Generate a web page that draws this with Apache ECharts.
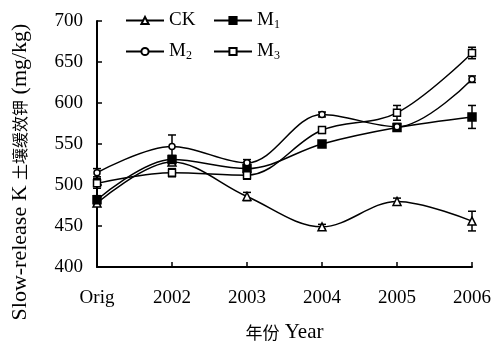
<!DOCTYPE html>
<html>
<head>
<meta charset="utf-8">
<script src="https://cdn.jsdelivr.net/npm/echarts@6/dist/echarts.min.js"></script>
<style>html,body{margin:0;padding:0;background:#fff}#c{width:496px;height:345px}</style>
</head>
<body>
<div id="c"></div>
<script>
const categories = ['Orig', '2002', '2003', '2004', '2005', '2006'];
const ck = [478, 528, 486, 449, 480, 456];
const m1 = [482, 531, 520, 550, 570, 583];
const m2 = [515, 547, 527, 586, 571, 629];
const m3 = [502, 515, 512, 567, 588, 661];
const ckErr = [4, 4, 5, 3, 4, 12];
const m1Err = [5, 5, 8, 3, 4, 14];
const m2Err = [5, 14, 4, 3, 4, 4];
const m3Err = [6, 5, 5, 4, 9, 7];
const seriesNames = ['CK', 'M1', 'M2', 'M3'];
const yMin = 400, yMax = 700, yStep = 50;

const serif = 'Liberation Serif, Times New Roman, serif';
const cjk = 'Noto Sans CJK SC';

const chart = echarts.init(document.getElementById('c'));

function errSeries(vals, errs) {
  return {
    type: 'custom',
    silent: true,
    z: 3,
    data: vals.map((v, i) => [i, v - errs[i], v + errs[i]]),
    renderItem: function (params, api) {
      const x = api.value(0);
      const top = api.coord([x, api.value(2)]);
      const bot = api.coord([x, api.value(1)]);
      const w = 4;
      const st = { stroke: '#000', lineWidth: 1.5 };
      return {
        type: 'group',
        children: [
          { type: 'line', shape: { x1: top[0], y1: top[1], x2: bot[0], y2: bot[1] }, style: st },
          { type: 'line', shape: { x1: top[0] - w, y1: top[1], x2: top[0] + w, y2: top[1] }, style: st },
          { type: 'line', shape: { x1: bot[0] - w, y1: bot[1], x2: bot[0] + w, y2: bot[1] }, style: st }
        ]
      };
    }
  };
}

function lineSeries(name, vals, symbol, fill, size) {
  return {
    name: name,
    type: 'line',
    data: vals,
    smooth: 0.35,
    symbol: symbol,
    symbolSize: size,
    z: 4,
    lineStyle: { color: '#000', width: 1.5 },
    itemStyle: { color: fill, borderColor: '#000', borderWidth: 1.5 }
  };
}

const legendText = {
  fontFamily: serif, fontSize: 19, color: '#000',
  rich: { sub: { fontFamily: serif, fontSize: 12, color: '#000', padding: [9, 0, 0, 0] } }
};
function legendFmt(name) {
  if (name.length === 2 && name[0] === 'M') return 'M{sub|' + name[1] + '}';
  return name;
}
function mkLegend(name, left, top) {
  return {
    data: [name], left: left, top: top, itemWidth: 38, itemHeight: 9, itemGap: 0,
    textStyle: legendText, formatter: legendFmt, selectedMode: false, padding: 0
  };
}

chart.setOption({
  animation: false,
  backgroundColor: '#fff',
  grid: { left: 97, right: 24, top: 21, bottom: 78, containLabel: false, outerBoundsMode: 'none' },
  legend: [
    mkLegend('CK', 125, 11),
    mkLegend('M1', 213, 11),
    mkLegend('M2', 125, 42),
    mkLegend('M3', 213, 42)
  ],
  xAxis: {
    type: 'category',
    data: categories,
    boundaryGap: false,
    axisLine: { lineStyle: { color: '#000', width: 2 } },
    axisTick: { inside: true, length: 5, lineStyle: { color: '#000', width: 1.5 } },
    axisLabel: { color: '#000', fontFamily: serif, fontSize: 19, margin: 22 },
    splitLine: { show: false },
    name: '{cn|年份} Year',
    nameLocation: 'middle',
    nameGap: 55,
    nameTextStyle: { color: '#000', fontFamily: serif, fontSize: 21,
      rich: { cn: { fontFamily: cjk, fontSize: 17, color: '#000' } } }
  },
  yAxis: {
    type: 'value',
    min: yMin, max: yMax, interval: yStep,
    axisLine: { show: true, lineStyle: { color: '#000', width: 2 } },
    axisTick: { show: true, inside: true, length: 5, lineStyle: { color: '#000', width: 1.5 } },
    axisLabel: { color: '#000', fontFamily: serif, fontSize: 19, margin: 14 },
    splitLine: { show: false }
  },
  graphic: [{
    type: 'text',
    x: 20, y: 172,
    rotation: Math.PI / 2,
    style: {
      text: 'Slow-release K {cn|土壤缓效钾} (mg/kg)',
      fontFamily: serif, fontSize: 22, fill: '#000',
      align: 'center', verticalAlign: 'middle',
      rich: { cn: { fontFamily: cjk, fontSize: 16, fill: '#000', color: '#000' } }
    }
  }],
  series: [
    errSeries(ck, ckErr), errSeries(m1, m1Err), errSeries(m2, m2Err), errSeries(m3, m3Err),
    lineSeries(seriesNames[0], ck, 'triangle', '#fff', 8),
    lineSeries(seriesNames[1], m1, 'rect', '#000', 8),
    lineSeries(seriesNames[2], m2, 'circle', '#fff', 6),
    lineSeries(seriesNames[3], m3, 'rect', '#fff', 7)
  ]
});
</script>
</body>
</html>
